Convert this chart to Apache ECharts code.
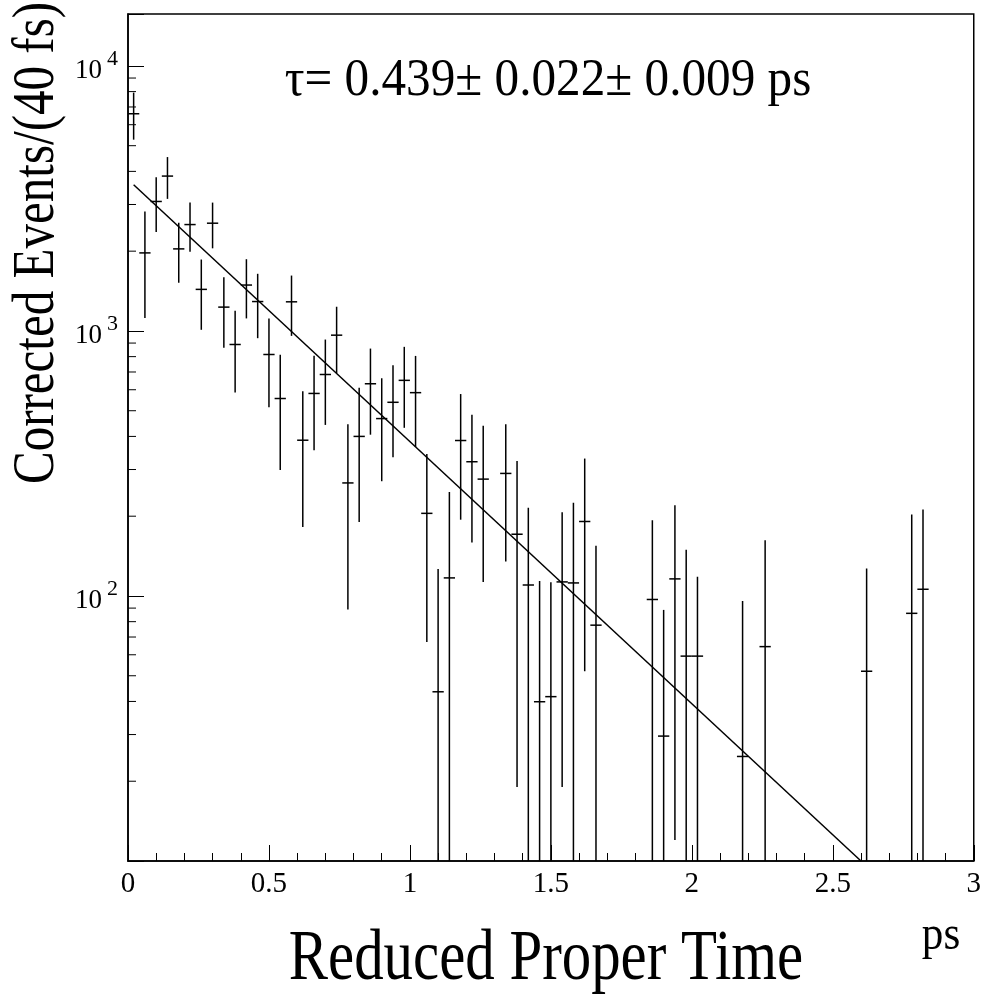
<!DOCTYPE html>
<html>
<head>
<meta charset="utf-8">
<script src="https://cdn.jsdelivr.net/npm/echarts@6/dist/echarts.min.js"></script>
<style>
  html, body { margin: 0; padding: 0; background: #fff; }
  #chart { width: 984px; height: 994px; }
</style>
</head>
<body>
<div id="chart"></div>
<script>
// bin centres (ps), 40 fs bins
var binTime = [0.02, 0.06, 0.10, 0.14, 0.18, 0.22, 0.26, 0.30, 0.34, 0.38,
               0.42, 0.46, 0.50, 0.54, 0.58, 0.62, 0.66, 0.70, 0.74, 0.78,
               0.82, 0.86, 0.90, 0.94, 0.98, 1.02, 1.06, 1.10, 1.14, 1.18,
               1.22, 1.26, 1.34, 1.38, 1.42, 1.46, 1.50, 1.54, 1.58, 1.62,
               1.66, 1.86, 1.90, 1.94, 1.98, 2.02, 2.18, 2.26, 2.62, 2.78, 2.82];
var binCount = [6600, 1970, 3080, 3840, 2040, 2520, 1435, 2550, 1230, 889,
                1490, 1291, 815, 556, 1288, 387, 581, 685, 964, 267,
                400, 632, 467, 538, 651, 585, 205, 43.5, 117, 386,
                321, 276, 290, 171, 110, 39.9, 41.7, 113, 112, 191,
                77.6, 97, 29.6, 116, 59.3, 59.3, 24.8, 64.4, 52, 86, 106];
var binError = [1330, 850, 720, 690, 520, 530, 425, 500, 365, 303,
                375, 352, 300, 257, 330, 205, 226, 243, 270, 178,
                210, 226, 196, 204, 220, 220, 138, 83, 130, 192,
                162, 163, 155, 152, 105, 74, 71, 94, 113, 139,
                77, 96, 59, 104, 90, 59, 71, 98, 75, 117, 106];
var halfBin = 0.02;

// exponential fit, straight on the log scale
var fitTime = [0.02, 2.60];
var fitCount = [3560, 10];

var yMin = 10, yMax = 15700;
var yMinorTicks = [20, 30, 40, 50, 60, 70, 80, 90,
                   200, 300, 400, 500, 600, 700, 800, 900,
                   2000, 3000, 4000, 5000, 6000, 7000, 8000, 9000];

var font = 'Liberation Serif';

var points = binTime.map(function (t, i) { return [t, binCount[i], binError[i]]; });
var fitData = fitTime.map(function (t, i) { return [t, fitCount[i]]; });

function renderErrBar(params, api) {
    var x = api.value(0), y = api.value(1), e = api.value(2);
    var lo = Math.max(y - e, yMin);
    var top = api.coord([x, y + e]);
    var bot = api.coord([x, lo]);
    var c = api.coord([x, y]);
    var l = api.coord([x - halfBin, y]);
    var r = api.coord([x + halfBin, y]);
    var st = { stroke: '#000', lineWidth: 1.5 };
    return {
        type: 'group',
        children: [
            { type: 'line', shape: { x1: top[0], y1: top[1], x2: bot[0], y2: bot[1] }, style: st },
            { type: 'line', shape: { x1: l[0], y1: c[1], x2: r[0], y2: c[1] }, style: st }
        ]
    };
}

function renderMinorTick(params, api) {
    var p = api.coord([0, api.value(0)]);
    return {
        type: 'line',
        shape: { x1: p[0], y1: p[1], x2: p[0] + 8, y2: p[1] },
        style: { stroke: '#000', lineWidth: 1 }
    };
}

// ROOT text looks vertically stretched, so scale the text blocks
function label(txt, x, y, size, sx, sy, rot) {
    return {
        type: 'text', x: x, y: y, rotation: rot || 0, scaleX: sx, scaleY: sy,
        style: { text: txt, font: size + 'px "Liberation Serif"', fill: '#000',
                 textAlign: 'center', textVerticalAlign: 'middle' }
    };
}

var option = {
    animation: false,
    backgroundColor: '#fff',
    grid: {
        left: 128, right: 9, top: 14, bottom: 133,
        show: true, borderColor: '#000', borderWidth: 1.5
    },
    xAxis: {
        type: 'value',
        min: 0, max: 3, interval: 0.5,
        axisLine: { lineStyle: { color: '#000', width: 1.5 } },
        axisTick: { inside: true, length: 16, lineStyle: { color: '#000' } },
        minorTick: { show: true, splitNumber: 5, length: 8, lineStyle: { color: '#000' } },
        splitLine: { show: false },
        axisLabel: { color: '#000', fontFamily: font, fontSize: 29, margin: 9 }
    },
    yAxis: {
        type: 'log',
        logBase: 10,
        min: yMin, max: yMax,
        axisLine: { lineStyle: { color: '#000', width: 1.5 } },
        axisTick: { inside: true, length: 16, lineStyle: { color: '#000' } },
        splitLine: { show: false },
        axisLabel: {
            margin: 10,
            formatter: function (v) {
                var e = Math.log10(v);
                if (Math.abs(e - Math.round(e)) > 1e-6 || v < 100) return '';
                return '{b|10}{e|' + Math.round(e) + '}';
            },
            rich: {
                b: { fontFamily: font, fontSize: 27, color: '#000', verticalAlign: 'bottom', lineHeight: 36 },
                e: { fontFamily: font, fontSize: 22, color: '#000', verticalAlign: 'top', lineHeight: 36, padding: [0, 0, 0, 5] }
            }
        }
    },
    graphic: [
        label('Corrected Events/(40 fs)', 38, 243, 45, 1.09, 1.3, Math.PI / 2),
        label('Reduced Proper Time', 546, 960, 54, 1.09, 1.32),
        label('ps', 941, 936, 36, 1.2, 1.35),
        label('τ= 0.439± 0.022± 0.009 ps', 548, 81, 41, 1.2, 1.28)
    ],
    series: [
        {
            type: 'custom',
            name: 'minor ticks',
            data: yMinorTicks.map(function (v) { return [v]; }),
            renderItem: renderMinorTick,
            encode: { y: 0 },
            clip: false,
            silent: true
        },
        {
            type: 'line',
            name: 'fit',
            data: fitData,
            showSymbol: false,
            symbol: 'none',
            clip: true,
            lineStyle: { color: '#000', width: 1.5 }
        },
        {
            type: 'custom',
            name: 'data',
            data: points,
            renderItem: renderErrBar,
            encode: { x: 0, y: 1 },
            clip: true
        }
    ]
};

echarts.init(document.getElementById('chart')).setOption(option);
</script>
</body>
</html>
